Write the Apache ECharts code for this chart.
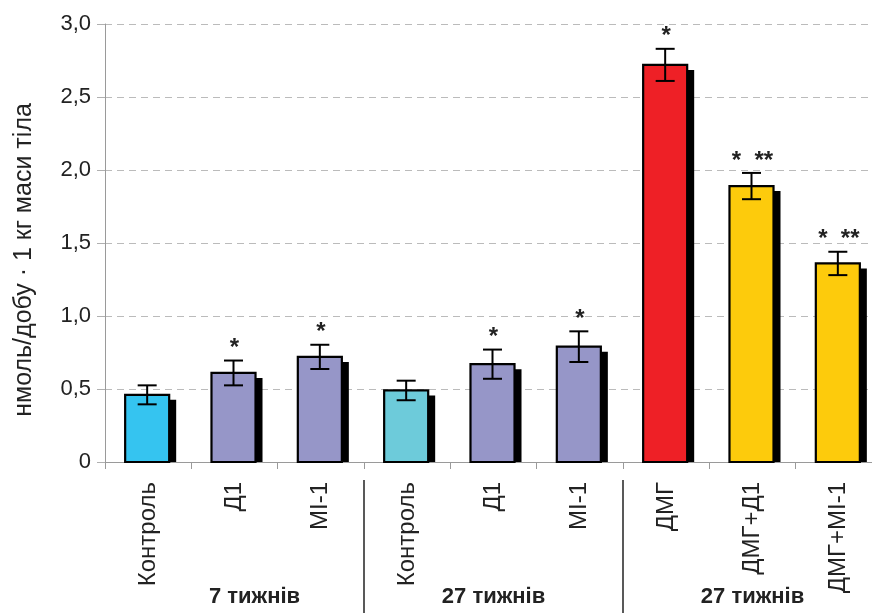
<!DOCTYPE html>
<html>
<head>
<meta charset="utf-8">
<script src="https://cdn.jsdelivr.net/npm/echarts@6/dist/echarts.min.js"></script>
<style>
html,body{margin:0;padding:0;background:#fff;}
#chart{width:872px;height:613px;}
</style>
</head>
<body>
<div id="chart"></div>
<script>
// ---- data ----
const categories = ['Контроль', 'Д1', 'МІ-1', 'Контроль', 'Д1', 'МІ-1', 'ДМГ', 'ДМГ+Д1', 'ДМГ+МІ-1'];
const values = [0.46, 0.61, 0.72, 0.49, 0.67, 0.79, 2.72, 1.89, 1.36];
const errors = [0.065, 0.085, 0.083, 0.067, 0.10, 0.105, 0.11, 0.09, 0.08];
const stars = ['', '*', '*', '', '*', '*', '*', '*  **', '*  **'];
const groups = ['7 тижнів', '27 тижнів', '27 тижнів'];
const yTicks = [0, 0.5, 1.0, 1.5, 2.0, 2.5, 3.0];
const yTitle = 'нмоль/добу · 1 кг маси тіла';

// ---- styles ----
const barColors = ['#35C4F0', '#9696C8', '#9696C8', '#6DCBDA', '#9696C8', '#9696C8', '#EE2026', '#FDCB0C', '#FDCB0C'];

const chart = echarts.init(document.getElementById('chart'), null, {renderer: 'canvas'});
const font = 'Liberation Sans, Arial, sans-serif';

const seriesData = values.map((v, i) => [i, v, errors[i]]);

const option = {
  animation: false,
  backgroundColor: '#fff',
  grid: {left: 105, right: -10, top: 24, bottom: 151, containLabel: false, outerBoundsMode: 'none'},
  xAxis: [{
    type: 'category',
    data: categories,
    boundaryGap: true,
    axisLine: {show: true, lineStyle: {color: '#9a9a9a', width: 1}},
    axisTick: {show: true, length: 7, lineStyle: {color: '#9a9a9a'}},
    axisLabel: {rotate: 90, fontSize: 24, color: '#222', fontFamily: font, margin: 20, interval: 0}
  }, {
    type: 'category',
    data: groups.map((g, i) => i === 0 ? {value: g, textStyle: {padding: [0, 0, 0, 40]}} : g),
    position: 'bottom',
    offset: 124,
    axisLine: {show: false},
    axisTick: {show: false},
    axisLabel: {fontSize: 22, fontWeight: 'bold', color: '#222', fontFamily: font, margin: 0, interval: 0}
  }],
  yAxis: {
    type: 'value',
    min: 0, max: 3, interval: 0.5,
    name: yTitle,
    nameLocation: 'middle',
    nameGap: 68,
    nameTextStyle: {fontSize: 25, color: '#222', fontFamily: font, padding: [0, 34, 0, 0]},
    axisLine: {show: true, lineStyle: {color: '#9a9a9a', width: 1}},
    axisTick: {show: true, length: 8, lineStyle: {color: '#b0b0b0'}},
    splitLine: {show: true, lineStyle: {color: '#bbbbbb', type: [7, 5], width: 1}},
    axisLabel: {
      fontSize: 22, color: '#222', fontFamily: font, margin: 14,
      formatter: v => (yTicks.indexOf(v) >= 0 ? (v === 0 ? '0' : v.toFixed(1).replace('.', ',')) : '')
    }
  },
  series: [{
    type: 'custom',
    xAxisIndex: 0,
    data: seriesData,
    clip: false,
    renderItem: function (params, api) {
      const i = api.value(0), v = api.value(1), e = api.value(2);
      const base = api.coord([i, 0]);
      const top = api.coord([i, v]);
      const eTop = api.coord([i, v + e]);
      const eBot = api.coord([i, v - e]);
      const bw = api.size([1, 0])[0] * 0.51;
      const cx = base[0] - 1;
      const x0 = cx - bw / 2;
      const cap = 9.5;
      const children = [
        {type: 'rect', shape: {x: x0 + 7, y: top[1] + 5, width: bw, height: base[1] - top[1] - 5},
          style: {fill: '#000'}},
        {type: 'rect', shape: {x: x0, y: top[1], width: bw, height: base[1] - top[1]},
          style: {fill: barColors[i], stroke: '#000', lineWidth: 2.2}},
        {type: 'line', shape: {x1: cx, y1: eTop[1], x2: cx, y2: eBot[1]}, style: {stroke: '#000', lineWidth: 2}},
        {type: 'line', shape: {x1: cx - cap, y1: eTop[1], x2: cx + cap, y2: eTop[1]}, style: {stroke: '#000', lineWidth: 2}},
        {type: 'line', shape: {x1: cx - cap, y1: eBot[1], x2: cx + cap, y2: eBot[1]}, style: {stroke: '#000', lineWidth: 2}}
      ];
      if (stars[i]) {
        children.push({type: 'text', x: cx + 1, y: eTop[1] - 12,
          style: {text: stars[i], fill: '#222', font: 'bold 24px ' + font, align: 'center', verticalAlign: 'middle'}});
      }
      return {type: 'group', children: children};
    }
  }]
};
chart.setOption(option);

// group separators at category boundaries between groups
const y0 = chart.convertToPixel({yAxisIndex: 0}, 0);
const seps = [2, 5].map(k => {
  const xa = chart.convertToPixel({xAxisIndex: 0}, k);
  const xb = chart.convertToPixel({xAxisIndex: 0}, k + 1);
  const x = (xa + xb) / 2;
  return {type: 'line', shape: {x1: x, y1: y0 + 18, x2: x, y2: 613}, style: {stroke: '#222', lineWidth: 1.5}};
});
chart.setOption({graphic: seps});
</script>
</body>
</html>
